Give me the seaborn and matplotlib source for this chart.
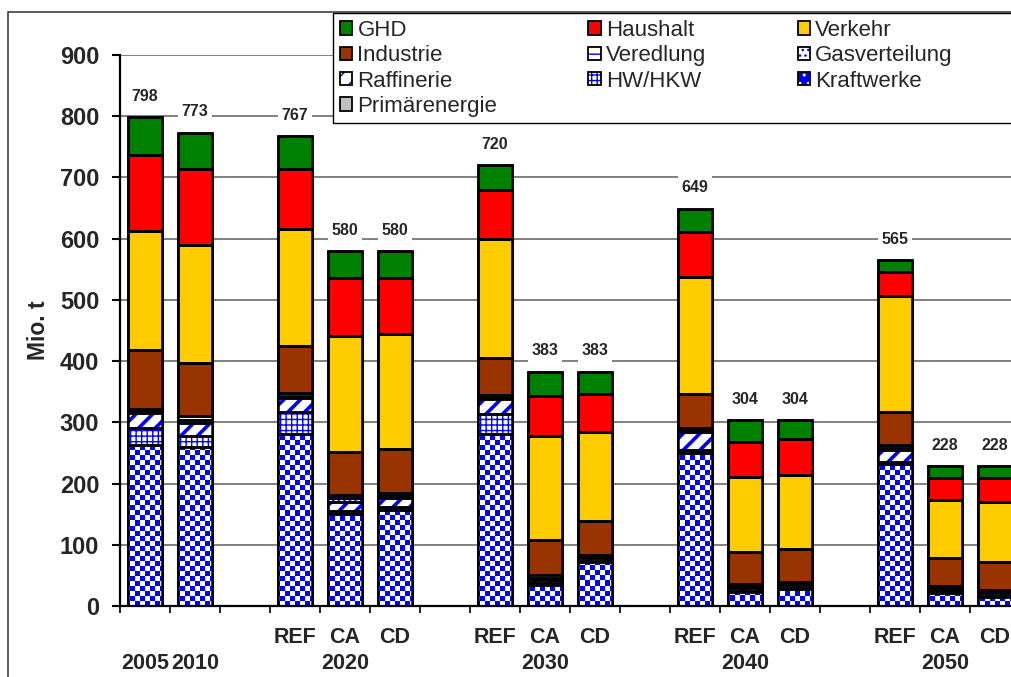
import numpy as np
import pandas as pd
import matplotlib
matplotlib.use("Agg")
import matplotlib.pyplot as plt
from matplotlib.patches import Patch, Rectangle
from matplotlib.legend_handler import HandlerTuple
import seaborn as sns

# ---- data (Mio. t CO2) -------------------------------------------------
bar_years = ["2005", "2010", "2020", "2020", "2020", "2030", "2030", "2030",
             "2040", "2040", "2040", "2050", "2050", "2050"]
bar_scenarios = ["", "", "REF", "CA", "CD", "REF", "CA", "CD",
                 "REF", "CA", "CD", "REF", "CA", "CD"]

primaerenergie = [0, 0, 0, 0, 0, 0, 0, 0, 0, 0, 0, 0, 0, 0]
kraftwerke = [263, 260, 281, 150, 157, 281, 35, 72, 250, 23, 28, 232, 22, 14]
hw_hkw = [27, 18, 36, 5, 4, 33, 3, 2, 5, 2, 2, 4, 2, 3]
raffinerie = [25, 21, 22, 15, 15, 24, 5, 4, 29, 4, 4, 19, 4, 5]
gasverteilung = [3, 4, 3, 6, 3, 3, 3, 2, 3, 3, 3, 3, 3, 2]
veredlung = [3, 8, 6, 5, 5, 4, 4, 3, 3, 4, 3, 5, 2, 2]
industrie = [97, 86, 76, 71, 72, 60, 58, 56, 57, 53, 53, 54, 46, 46]
verkehr = [195, 193, 191, 189, 189, 194, 169, 146, 191, 122, 121, 190, 94, 98]
haushalt = [124, 124, 99, 95, 91, 81, 66, 62, 73, 57, 58, 39, 36, 39]
ghd = [61, 59, 53, 44, 44, 40, 40, 36, 38, 36, 32, 19, 19, 19]

y_ticks = [0, 100, 200, 300, 400, 500, 600, 700, 800, 900]

# ---- styling per sector, stacked from bottom to top ---------------------
BLUE = "#0000FF"
sectors = [
    # name, values, face, hatch, hatch colour
    ("Primärenergie", primaerenergie, "#C0C0C0", None, None),
    ("Kraftwerke", kraftwerke, "#FFFFFF", "checker", BLUE),
    ("HW/HKW", hw_hkw, "#FFFFFF", "+++", BLUE),
    ("Raffinerie", raffinerie, "#FFFFFF", "//", BLUE),
    ("Gasverteilung", gasverteilung, "#FFFFFF", "...", BLUE),
    ("Veredlung", veredlung, "#FFFFFF", "--", BLUE),
    ("Industrie", industrie, "#993300", None, None),
    ("Verkehr", verkehr, "#FFCC00", None, None),
    ("Haushalt", haushalt, "#FF0000", None, None),
    ("GHD", ghd, "#008000", None, None),
]
hatch_widths = {"+++": 1.0, "//": 2.6, "...": 1.0, "--": 1.6}

# slot positions: one empty slot before each scenario group
positions = []
pos, prev_year = 0, None
for yr, sc in zip(bar_years, bar_scenarios):
    if sc and yr != prev_year:
        pos += 1
    positions.append(pos)
    pos += 1
    prev_year = yr
n_slots = pos

rows = []
for i, p in enumerate(positions):
    base = 0
    for name, vals, *_ in sectors:
        rows.append(dict(slot=p, sector=name, value=vals[i], bottom=base,
                         cum=base + vals[i]))
        base += vals[i]
df = pd.DataFrame(rows)
totals = df.groupby("slot")["value"].sum()

# ---- figure ----------------------------------------------------------------
sns.set_theme(style="ticks")
plt.rcParams["font.family"] = ["Liberation Sans", "DejaVu Sans"]
plt.rcParams["hatch.linewidth"] = 1.0

W, H = 1011, 677
fig = plt.figure(figsize=(W / 100, H / 100), dpi=100)
ax = fig.add_axes([120 / W, (H - 606) / H, 900 / W, 551 / H])

BAR_W = 0.68
EDGE_LW = 1.8

# cumulative bars, drawn from the top layer down so lower layers overlay
for name, vals, face, hatch, hcol in reversed(sectors):
    sub = df[df["sector"] == name]
    kws = dict(facecolor=face, edgecolor=hcol if hcol else "black",
               linewidth=0 if hcol else EDGE_LW)
    if hatch and hatch != "checker":
        kws["hatch"] = hatch
    sns.barplot(data=sub, x="slot", y="cum", native_scale=True, width=BAR_W,
                errorbar=None, saturation=1, ax=ax, zorder=2, **kws)
    cont = ax.containers[-1]
    if hatch in hatch_widths:
        for patch in cont:
            try:
                patch.set_hatch_linewidth(hatch_widths[hatch])
            except AttributeError:
                pass
    if hatch == "checker":
        # blue/white checkerboard texture clipped to each bar
        cell = 5
        nx, ny = 900 // cell, 551 // cell
        tex = (np.add.outer(np.arange(ny), np.arange(nx)) % 2).astype(float)
        ytop = ny * cell / (551 / 900)
        xright = -0.5 + nx * cell / 50
        for patch in cont:
            im = ax.imshow(tex, cmap=matplotlib.colors.ListedColormap(["#FFFFFF", BLUE]),
                           extent=(-0.5, xright, 0, ytop), origin="lower",
                           aspect="auto", interpolation="nearest", zorder=2.05)
            im.set_clip_path(patch)

# black outlines around every segment
for name, vals, face, hatch, hcol in sectors:
    sub = df[(df["sector"] == name) & (df["value"] > 0)]
    ax.bar(sub["slot"], sub["value"], bottom=sub["bottom"], width=BAR_W,
           fill=False, edgecolor="black", linewidth=EDGE_LW, zorder=3)

# totals above the bars
for slot, tot in totals.items():
    ax.annotate(f"{tot}", xy=(slot, tot), xytext=(0, 15), textcoords="offset points",
                ha="center", va="center", fontsize=11.5, fontweight="bold",
                bbox=dict(boxstyle="square,pad=0.25", facecolor="white", edgecolor="none"),
                zorder=4)

# axes
ax.set_xlim(-0.5, n_slots - 0.5)
ax.set_ylim(0, 900)
ax.set_yticks(y_ticks)
ax.set_yticklabels([str(t) for t in y_ticks], fontsize=17, fontweight="bold")
ax.set_xticks(np.arange(-0.5, n_slots, 1.0))
ax.set_xticklabels([])
ax.tick_params(axis="y", direction="out", length=6, width=1.5, pad=9, color="black")
ax.tick_params(axis="x", direction="out", length=5, width=1.2, color="black")
ax.yaxis.grid(True, color="#808080", linewidth=1.4)
ax.xaxis.grid(False)
ax.set_axisbelow(True)
for side in ("top", "right"):
    ax.spines[side].set_visible(False)
for side in ("left", "bottom"):
    ax.spines[side].set_linewidth(1.6)
    ax.spines[side].set_color("black")
ax.set_xlabel("")
ax.set_ylabel("Mio. t", fontsize=16.5, fontweight="bold")
ax.yaxis.set_label_coords(-0.078, 0.5)

# category labels below the axis
for p, sc in zip(positions, bar_scenarios):
    if sc:
        ax.annotate(sc, xy=(p, 0), xycoords=("data", "axes fraction"), xytext=(0, -22.5),
                    textcoords="offset points", ha="center", va="center",
                    fontsize=15.5, fontweight="bold", annotation_clip=False)
for yr in dict.fromkeys(bar_years):
    ps = [p for p, y in zip(positions, bar_years) if y == yr]
    ax.annotate(yr, xy=(np.mean(ps), 0), xycoords=("data", "axes fraction"),
                xytext=(0, -41.5), textcoords="offset points", ha="center", va="center",
                fontsize=15.5, fontweight="bold", annotation_clip=False)

# legend (row-major reading order in three columns)
style = {name: (face, hatch, hcol) for name, _, face, hatch, hcol in sectors}
order = ["GHD", "Industrie", "Raffinerie", "Primärenergie",
         "Haushalt", "Veredlung", "HW/HKW",
         "Verkehr", "Gasverteilung", "Kraftwerke"]
handles = []
for name in order:
    face, hatch, hcol = style[name]
    outline = Patch(facecolor="none", edgecolor="black", linewidth=1.3)
    if hatch == "checker":
        inner = Patch(facecolor=BLUE, edgecolor="white", hatch="..", linewidth=0)
    elif hatch:
        inner = Patch(facecolor=face, edgecolor=hcol, hatch=hatch, linewidth=0)
    else:
        inner = Patch(facecolor=face, edgecolor="none")
    handles.append((inner, outline))

# legend box runs past the right edge of the chart area
fig.add_artist(Rectangle((333 / W, 1 - 123 / H), 720 / W, 110 / H,
                         transform=fig.transFigure, facecolor="white",
                         edgecolor="black", linewidth=1.0, zorder=4))
leg = fig.legend(handles, order, loc="upper left",
                 bbox_to_anchor=(333 / W, 1 - 13 / H), ncol=3, fontsize=16,
                 handler_map={tuple: HandlerTuple(ndivide=1, pad=0)},
                 handlelength=0.55, handleheight=0.55, handletextpad=0.25,
                 columnspacing=4.1, labelspacing=0.2, borderpad=0.3,
                 borderaxespad=0, frameon=False)
leg.set_zorder(5)

# outer chart frame
fig.add_artist(Rectangle((8 / W, -0.1), 1.2, 1 - 12 / H + 0.1, transform=fig.transFigure,
                         fill=False, edgecolor="#404040", linewidth=1.2))

fig.savefig("out.png", dpi=100, facecolor="white")
